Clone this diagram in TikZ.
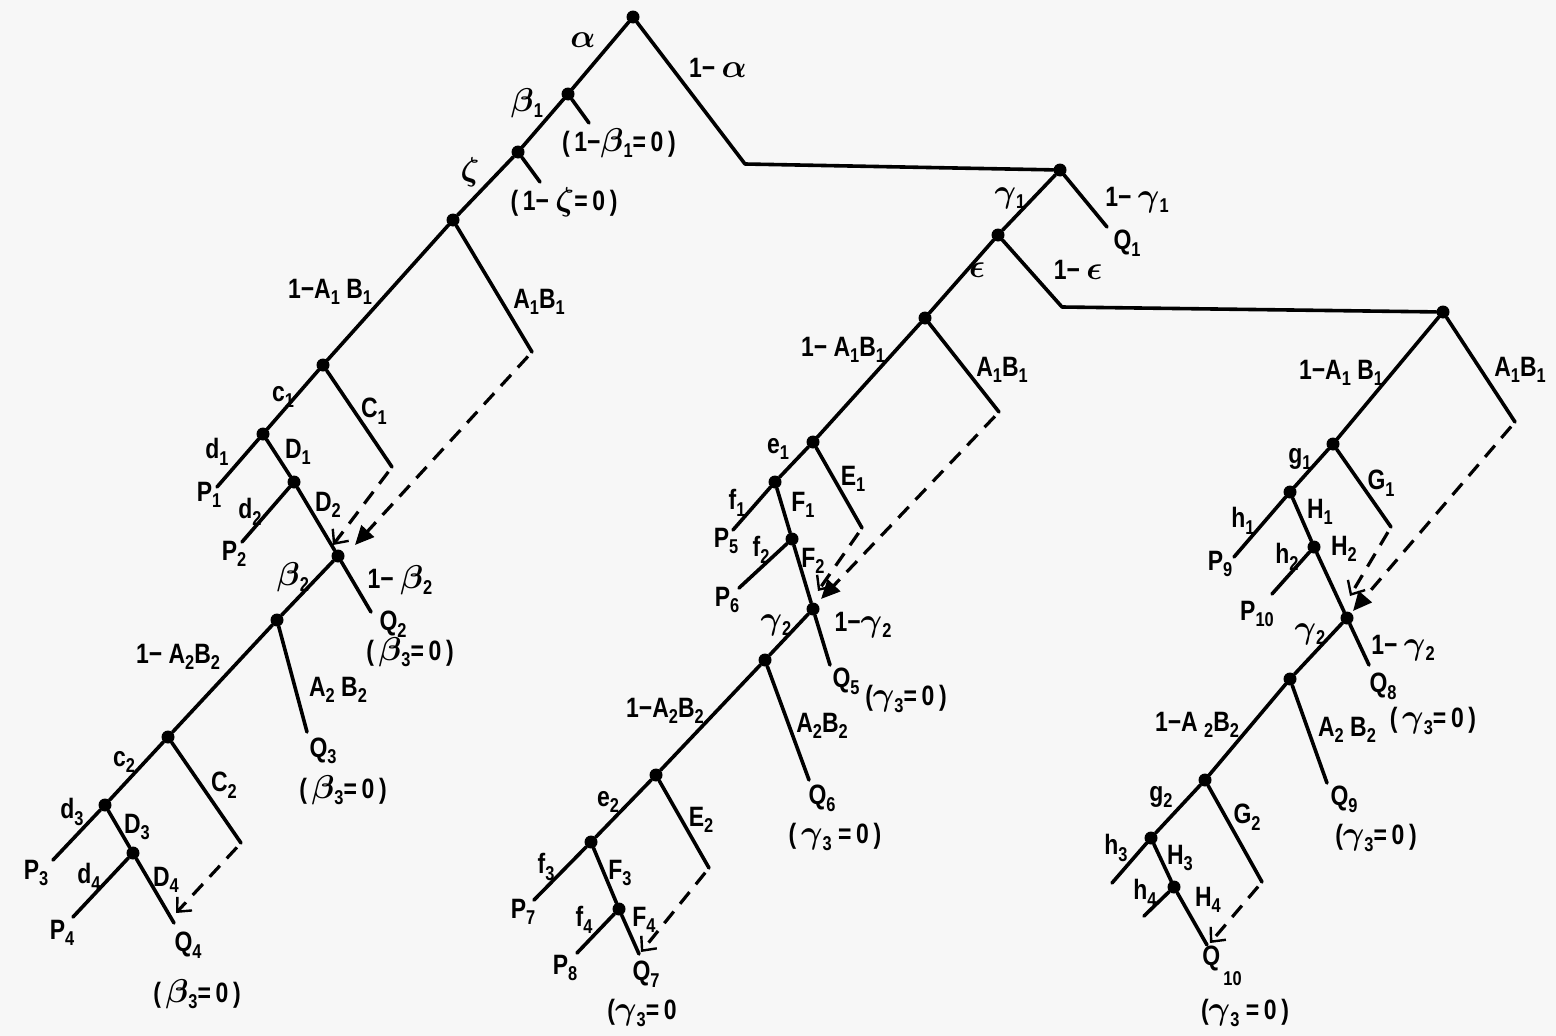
\documentclass[tikz,border=0pt]{standalone}
\usepackage{fix-cm}
\usepackage{fontspec}
\usetikzlibrary{arrows.meta}
\newfontfamily\lab{Liberation Sans}[FakeStretch=0.82]
\newcommand\sbs[1]{\raisebox{-0.45ex}{\fontsize{20}{20}\selectfont #1}}
\newcommand\gk[1]{{\fontsize{33}{33}\selectfont$#1$}}
\tikzset{
  br/.style={line width=3.6pt, line cap=round},
  dot/.style={circle, fill=black, inner sep=0pt, minimum size=13pt},
  lbl/.style={font=\lab\bfseries\boldmath\fontsize{28}{32}\selectfont, inner sep=0pt},
  dsh/.style={line width=3.2pt, dash pattern=on 15pt off 10pt, shorten <=6pt},
  opena/.style={-{Straight Barb[length=11pt,width=20pt,line width=2.4pt]}},
  fulla/.style={-{Triangle[length=19pt,width=17pt]}},
}
\begin{document}
\begin{tikzpicture}[x=1pt,y=-1pt]
\useasboundingbox[fill=black!3] (0,0) rectangle (1556,1036);
% ---------- top ----------
\node[dot] (root) at (633,17) {};
\node[dot] (b1) at (568,94) {};
\node[dot] (zz) at (518,152) {};
\coordinate (b1e) at (589,123);
\coordinate (zze) at (540,182);
\coordinate (ak) at (745,164);
\node[dot] (gam1) at (1060,170) {};
\coordinate (q1e) at (1107,227);
\node[dot] (eps) at (998,235) {};
\coordinate (ek) at (1062,307);
\node[dot] (R0) at (1443,312) {};
\node[dot] (M0) at (925,318) {};
\node[dot] (L0) at (453,220) {};
\draw[br] (root) -- (b1) -- (zz) -- (L0);
\draw[br] (b1) -- (b1e);
\draw[br] (zz) -- (zze);
\draw[br, line join=round] (root) -- (ak) -- (gam1);
\draw[br] (gam1) -- (q1e);
\draw[br] (gam1) -- (eps) -- (M0);
\draw[br, line join=round] (eps) -- (ek) -- (R0);
\node[lbl] (tA) at (583,40) {\gk{\alpha}};
\node[lbl] (tB) at (718,68) {1− \gk{\alpha}};
\node[lbl] (tC) at (527,103) {\gk{\beta}\sbs{1}};
\node[lbl] (tD) at (619,143) {(\,1−\gk{\beta}\sbs{1}=\,0\,)};
\node[lbl] (tE) at (470,172) {\gk{\zeta}};
\node[lbl] (tF) at (564,202) {(\,1− \gk{\zeta}=\,0\,)};
\node[lbl] (tG) at (1010,198) {\gk{\gamma}\sbs{1}};
\node[lbl] (tH) at (1137,200) {1− \gk{\gamma}\sbs{1}};
\node[lbl] (tI) at (1127,243) {Q\sbs{1}};
\node[lbl] (tJ) at (977,270) {\gk{\epsilon}};
\node[lbl] (tK) at (1078,270) {1− \gk{\epsilon}};
% ---------- left subtree ----------
\coordinate (L0a) at (532,352);
\node[dot] (L1) at (323,365) {};
\coordinate (L1c) at (392,467);
\node[dot] (L2) at (263,434) {};
\coordinate (P1e) at (217,487);
\node[dot] (L3) at (294,482) {};
\coordinate (P2e) at (242,542);
\node[dot] (B2) at (338,556) {};
\coordinate (B2e) at (371,612);
\node[dot] (L4) at (277,620) {};
\coordinate (L4a) at (307,732);
\node[dot] (L5) at (168,737) {};
\coordinate (L5c) at (241,843);
\node[dot] (L6) at (105,805) {};
\coordinate (P3e) at (53,860);
\node[dot] (L7) at (133,853) {};
\coordinate (P4e) at (73,917);
\coordinate (Q4e) at (174,923);
\coordinate (LtA) at (355,545);
\coordinate (LtB) at (333,545);
\coordinate (LtC) at (176,913);
\draw[br] (L0) -- (L1) -- (L2) -- (P1e);
\draw[br] (L0) -- (L0a);
\draw[br] (L1) -- (L1c);
\draw[br] (L2) -- (L3) -- (P2e);
\draw[br] (L3) -- (B2);
\draw[br] (B2) -- (B2e);
\draw[br] (B2) -- (L4) -- (L5) -- (L6) -- (P3e);
\draw[br] (L4) -- (L4a);
\draw[br] (L5) -- (L5c);
\draw[br] (L6) -- (L7) -- (P4e);
\draw[br] (L7) -- (Q4e);
\draw[dsh, fulla] (L0a) -- (LtA);
\draw[dsh, opena] (L1c) -- (LtB);
\draw[dsh, opena] (L5c) -- (LtC);
\node[lbl] (la1) at (330,292) {1−A\sbs{1} B\sbs{1}};
\node[lbl] (la2) at (539,302) {A\sbs{1}B\sbs{1}};
\node[lbl] (la3) at (283,397) {c\sbs{1}};
\node[lbl] (la4) at (374,411) {C\sbs{1}};
\node[lbl] (la5) at (217,452) {d\sbs{1}};
\node[lbl] (la6) at (298,452) {D\sbs{1}};
\node[lbl] (la7) at (209,495) {P\sbs{1}};
\node[lbl] (la8) at (250,512) {d\sbs{2}};
\node[lbl] (la9) at (328,505) {D\sbs{2}};
\node[lbl] (la10) at (234,554) {P\sbs{2}};
\node[lbl] (la11) at (293,577) {\gk{\beta}\sbs{2}};
\node[lbl] (la12) at (400,580) {1− \gk{\beta}\sbs{2}};
\node[lbl] (la13) at (393,624) {Q\sbs{2}};
\node[lbl] (la14) at (410,652) {(\,\gk{\beta}\sbs{3}=\,0\,)};
\node[lbl] (la15) at (178,657) {1− A\sbs{2}B\sbs{2}};
\node[lbl] (la16) at (338,690) {A\sbs{2} B\sbs{2}};
\node[lbl] (la17) at (323,751) {Q\sbs{3}};
\node[lbl] (la18) at (343,790) {(\,\gk{\beta}\sbs{3}=\,0\,)};
\node[lbl] (la19) at (124,762) {c\sbs{2}};
\node[lbl] (la20) at (224,785) {C\sbs{2}};
\node[lbl] (la21) at (72,812) {d\sbs{3}};
\node[lbl] (la22) at (137,827) {D\sbs{3}};
\node[lbl] (la23) at (36,873) {P\sbs{3}};
\node[lbl] (la24) at (89,877) {d\sbs{4}};
\node[lbl] (la25) at (166,880) {D\sbs{4}};
\node[lbl] (la26) at (62,933) {P\sbs{4}};
\node[lbl] (la27) at (188,945) {Q\sbs{4}};
\node[lbl] (la28) at (197,994) {(\,\gk{\beta}\sbs{3}=\,0\,)};
% ---------- middle subtree ----------
\coordinate (M0a) at (999,412);
\node[dot] (M1) at (813,442) {};
\coordinate (M1e) at (862,528);
\node[dot] (M2) at (775,482) {};
\coordinate (P5e) at (733,530);
\node[dot] (M3) at (792,539) {};
\coordinate (P6e) at (739,588);
\node[dot] (M4) at (813,609) {};
\coordinate (Q5e) at (830,665);
\node[dot] (M5) at (765,660) {};
\coordinate (M5a) at (809,780);
\node[dot] (M6) at (656,775) {};
\coordinate (M6e) at (709,868);
\node[dot] (M7) at (591,842) {};
\coordinate (P7e) at (534,900);
\node[dot] (M8) at (619,909) {};
\coordinate (P8e) at (577,953);
\coordinate (Q7e) at (639,954);
\coordinate (MtA) at (821,599);
\coordinate (MtB) at (818,591);
\coordinate (MtC) at (641,952);
\draw[br] (M0) -- (M1) -- (M2) -- (P5e);
\draw[br] (M0) -- (M0a);
\draw[br] (M1) -- (M1e);
\draw[br] (M2) -- (M3) -- (P6e);
\draw[br] (M3) -- (M4);
\draw[br] (M4) -- (Q5e);
\draw[br] (M4) -- (M5) -- (M6) -- (M7) -- (P7e);
\draw[br] (M5) -- (M5a);
\draw[br] (M6) -- (M6e);
\draw[br] (M7) -- (M8) -- (P8e);
\draw[br] (M8) -- (Q7e);
\draw[dsh, fulla] (M0a) -- (MtA);
\draw[dsh, opena] (M1e) -- (MtB);
\draw[dsh, opena] (M6e) -- (MtC);
\node[lbl] (mb1) at (843,350) {1− A\sbs{1}B\sbs{1}};
\node[lbl] (mb2) at (1002,370) {A\sbs{1}B\sbs{1}};
\node[lbl] (mb3) at (778,449) {e\sbs{1}};
\node[lbl] (mb4) at (853,479) {E\sbs{1}};
\node[lbl] (mb5) at (737,503) {f\sbs{1}};
\node[lbl] (mb6) at (803,505) {F\sbs{1}};
\node[lbl] (mb7) at (726,541) {P\sbs{5}};
\node[lbl] (mb8) at (761,550) {f\sbs{2}};
\node[lbl] (mb9) at (813,561) {F\sbs{2}};
\node[lbl] (mb10) at (727,600) {P\sbs{6}};
\node[lbl] (mb11) at (776,625) {\gk{\gamma}\sbs{2}};
\node[lbl] (mb12) at (863,625) {1−\gk{\gamma}\sbs{2}};
\node[lbl] (mb13) at (846,681) {Q\sbs{5}};
\node[lbl] (mb14) at (906,699) {(\gk{\gamma}\sbs{3}=\,0\,)};
\node[lbl] (mb15) at (665,711) {1−A\sbs{2}B\sbs{2}};
\node[lbl] (mb16) at (822,726) {A\sbs{2}B\sbs{2}};
\node[lbl] (mb17) at (822,798) {Q\sbs{6}};
\node[lbl] (mb18) at (835,837) {(\,\gk{\gamma}\sbs{3} =\,0\,)};
\node[lbl] (mb19) at (608,802) {e\sbs{2}};
\node[lbl] (mb20) at (701,820) {E\sbs{2}};
\node[lbl] (mb21) at (546,867) {f\sbs{3}};
\node[lbl] (mb22) at (620,873) {F\sbs{3}};
\node[lbl] (mb23) at (523,912) {P\sbs{7}};
\node[lbl] (mb24) at (584,920) {f\sbs{4}};
\node[lbl] (mb25) at (644,920) {F\sbs{4}};
\node[lbl] (mb26) at (565,968) {P\sbs{8}};
\node[lbl] (mb27) at (646,974) {Q\sbs{7}};
\node[lbl] (mb28) at (642,1013) {(\gk{\gamma}\sbs{3}=\,0};
% ---------- right subtree ----------
\coordinate (R0a) at (1515,422);
\node[dot] (R1) at (1333,444) {};
\coordinate (R1e) at (1391,527);
\node[dot] (R2) at (1290,492) {};
\coordinate (P9e) at (1234,557);
\node[dot] (R3) at (1314,547) {};
\coordinate (P10e) at (1272,594);
\node[dot] (R4) at (1347,618) {};
\coordinate (Q8e) at (1369,665);
\node[dot] (R5) at (1290,679) {};
\coordinate (R5a) at (1327,783);
\node[dot] (R6) at (1205,780) {};
\coordinate (R6e) at (1262,882);
\node[dot] (R7) at (1151,838) {};
\coordinate (H3e) at (1112,883);
\node[dot] (R8) at (1174,887) {};
\coordinate (H4e) at (1144,916);
\coordinate (Q10e) at (1207,945);
\coordinate (RtA) at (1353,611);
\coordinate (RtB) at (1350,596);
\coordinate (RtC) at (1210,943);
\draw[br] (R0) -- (R1) -- (R2) -- (P9e);
\draw[br] (R0) -- (R0a);
\draw[br] (R1) -- (R1e);
\draw[br] (R2) -- (R3) -- (P10e);
\draw[br] (R3) -- (R4);
\draw[br] (R4) -- (Q8e);
\draw[br] (R4) -- (R5) -- (R6) -- (R7) -- (H3e);
\draw[br] (R5) -- (R5a);
\draw[br] (R6) -- (R6e);
\draw[br] (R7) -- (R8) -- (H4e);
\draw[br] (R8) -- (Q10e);
\draw[dsh, fulla] (R0a) -- (RtA);
\draw[dsh, opena] (R1e) -- (RtB);
\draw[dsh, opena] (R6e) -- (RtC);
\node[lbl] (rc1) at (1341,373) {1−A\sbs{1} B\sbs{1}};
\node[lbl] (rc2) at (1520,370) {A\sbs{1}B\sbs{1}};
\node[lbl] (rc3) at (1300,459) {g\sbs{1}};
\node[lbl] (rc4) at (1381,483) {G\sbs{1}};
\node[lbl] (rc5) at (1243,521) {h\sbs{1}};
\node[lbl] (rc6) at (1320,512) {H\sbs{1}};
\node[lbl] (rc7) at (1220,564) {P\sbs{9}};
\node[lbl] (rc8) at (1287,557) {h\sbs{2}};
\node[lbl] (rc9) at (1344,549) {H\sbs{2}};
\node[lbl] (rc10) at (1257,614) {P\sbs{10}};
\node[lbl] (rc11) at (1310,634) {\gk{\gamma}\sbs{2}};
\node[lbl] (rc12) at (1403,648) {1− \gk{\gamma}\sbs{2}};
\node[lbl] (rc13) at (1383,686) {Q\sbs{8}};
\node[lbl] (rc14) at (1433,721) {(\,\gk{\gamma}\sbs{3}=\,0\,)};
\node[lbl] (rc15) at (1197,725) {1−A \sbs{2}B\sbs{2}};
\node[lbl] (rc16) at (1347,730) {A\sbs{2} B\sbs{2}};
\node[lbl] (rc17) at (1344,799) {Q\sbs{9}};
\node[lbl] (rc18) at (1376,838) {(\gk{\gamma}\sbs{3}=\,0\,)};
\node[lbl] (rc19) at (1161,797) {g\sbs{2}};
\node[lbl] (rc20) at (1247,817) {G\sbs{2}};
\node[lbl] (rc21) at (1116,848) {h\sbs{3}};
\node[lbl] (rc22) at (1180,858) {H\sbs{3}};
\node[lbl] (rc23) at (1145,893) {h\sbs{4}};
\node[lbl] (rc24) at (1208,900) {H\sbs{4}};
\node[lbl] (rc25) at (1222,966) {Q\raisebox{-0.9ex}{\sbs{\,10}}};
\node[lbl] (rc26) at (1245,1013) {(\gk{\gamma}\sbs{3} =\,0\,)};
\end{tikzpicture}
\end{document}
